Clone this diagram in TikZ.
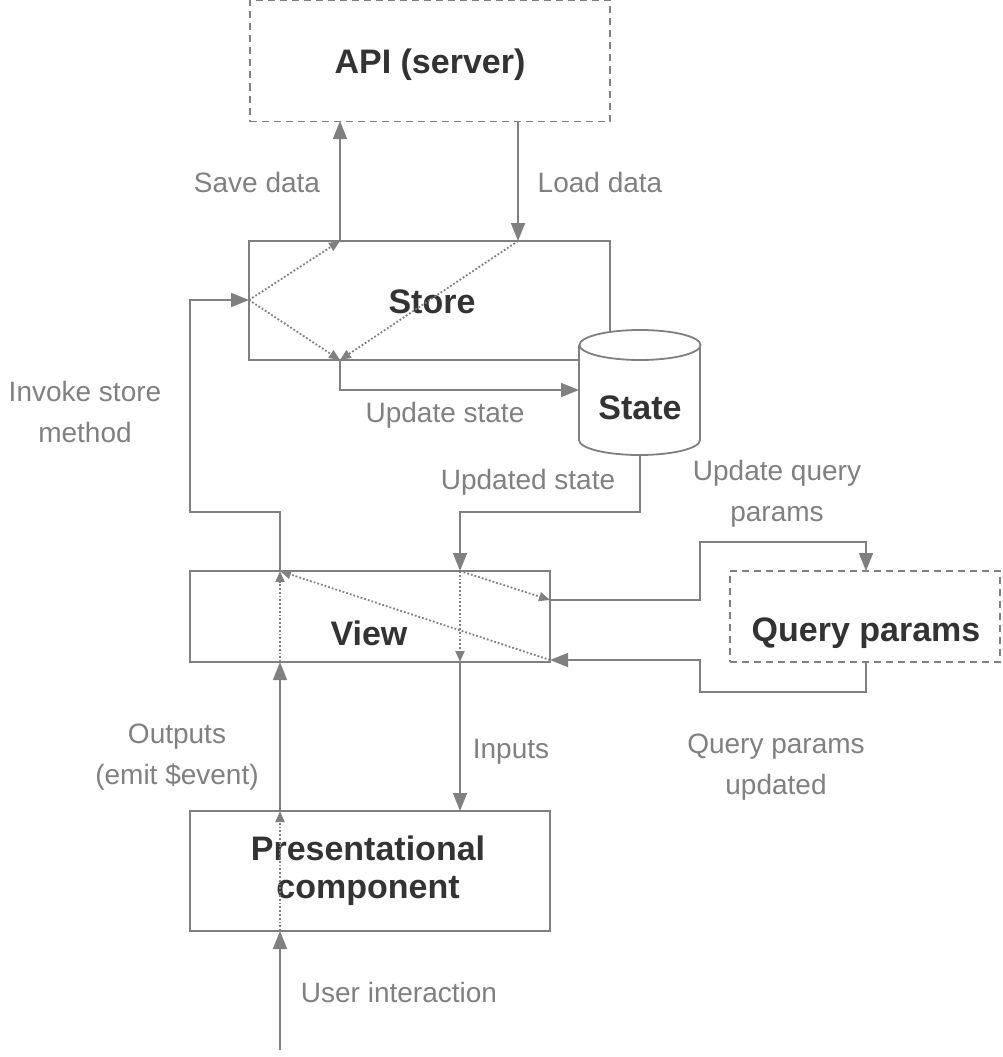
\documentclass[tikz,border=0pt]{standalone}
\usepackage{fontspec}
\setmainfont{Liberation Sans}
\usetikzlibrary{arrows.meta,shapes.geometric}
\definecolor{ln}{HTML}{808080}
\definecolor{tx}{HTML}{333333}
\begin{document}
\begin{tikzpicture}[x=1pt,y=-1pt,
  bf/.style={text=tx,font=\fontsize{34}{38}\selectfont\bfseries,align=center},
  box/.style={draw=ln,line width=1.8pt,minimum width=#1},
  dbox/.style={box=#1,dashed,dash pattern=on 7pt off 5pt},
  conn/.style={draw=ln,line width=1.8pt,-{Triangle[length=18pt,width=14pt]}},
  dot/.style={draw=ln,line width=1.8pt,dotted,-{Triangle[length=11pt,width=9pt]}},
  plain/.style={draw=ln,line width=1.8pt},
  lab/.style={text=ln,font=\fontsize{28}{41}\selectfont,align=center}]
\useasboundingbox (0,0) rectangle (1002,1057);
\node[dbox=360pt,minimum height=121pt] (api) at (430,61) {};
\node[bf] (apit) at (430,65) {API (server)};
\node[box=361pt,minimum height=119pt] (store) at (429.5,300.5) {};
\node[bf] (storet) at (432,302) {Store};
\node[box=360pt,minimum height=91pt] (view) at (370,616.5) {};
\node[bf] (viewt) at (369,633) {View};
\node[dbox=270pt,minimum height=91pt] (qp) at (865,616.5) {};
\node[bf] (qpt) at (866,633) {Query params};
\node[box=360pt,minimum height=120pt] (pres) at (370,871) {};
\node[bf,font=\fontsize{34}{38}\selectfont\bfseries] (prest) at (368,871) {Presentational\\component};
% cylinder
\draw[plain,fill=white] (579,345) -- (579,440) arc[start angle=180,end angle=0,x radius=60.5,y radius=15] -- (700,345);
\draw[plain,fill=white] (640,345) ellipse[x radius=60.5,y radius=15];
\node[bf] (state) at (640,408) {State};
\coordinate (s1) at (340,241); \coordinate (a1) at (340,121);
\coordinate (a2) at (518,121); \coordinate (s2) at (518,241);
\coordinate (sl) at (249,300); \coordinate (sb) at (340,360);
\coordinate (cl) at (579,390);
\draw[conn] (s1) -- (a1);
\draw[conn] (a2) -- (s2);
\draw[dot] (sl) -- (s1);
\draw[dot] (sl) -- (sb);
\draw[dot] (s2) -- (sb);
\draw[conn] (sb) -- (340,390) -- (cl);
\node[lab] (l1) at (257,182) {Save data};
\node[lab] (l2) at (600,182) {Load data};
\node[lab] (l3) at (445,415) {Update state};
% invoke
\coordinate (vt1) at (280,571); \coordinate (vt2) at (460,571);
\draw[conn] (vt1) -- (280,512) -- (190,512) -- (190,300) -- (sl);
\node[lab] (l4) at (85,412) {Invoke store\\method};
\draw[conn] (640,455) -- (640,512) -- (460,512) -- (vt2);
\node[lab] (l5) at (528,482) {Updated state};
\coordinate (vr1) at (550,600); \coordinate (vr2) at (550,660);
\coordinate (vb1) at (460,662); \coordinate (vb0) at (280,662);
\draw[dot] (vt2) -- (vb1);
\draw[dot] (vt2) -- (vr1);
\draw[dot] (vr2) -- (vt1);
\draw[dot] (vb0) -- (vt1);
\draw[conn] (vr1) -- (700,600) -- (700,542) -- (866,542) -- (866,571);
\node[lab] (l6) at (777,494) {Update query\\params};
\draw[conn] (866,662) -- (866,692) -- (700,692) -- (700,660) -- (vr2);
\node[lab] (l7) at (776,767) {Query params\\updated};
\coordinate (pt1) at (280,811); \coordinate (pt2) at (460,811);
\coordinate (pb) at (280,931);
\draw[conn] (vb1) -- (pt2);
\node[lab] (l8) at (511,752) {Inputs};
\draw[conn] (pt1) -- (vb0);
\node[lab] (l9) at (177,757) {Outputs\\(emit \$event)};
\draw[dot] (pb) -- (pt1);
\draw[conn] (280,1050) -- (pb);
\node[lab] (l10) at (399,992) {User interaction};
\end{tikzpicture}
\end{document}
